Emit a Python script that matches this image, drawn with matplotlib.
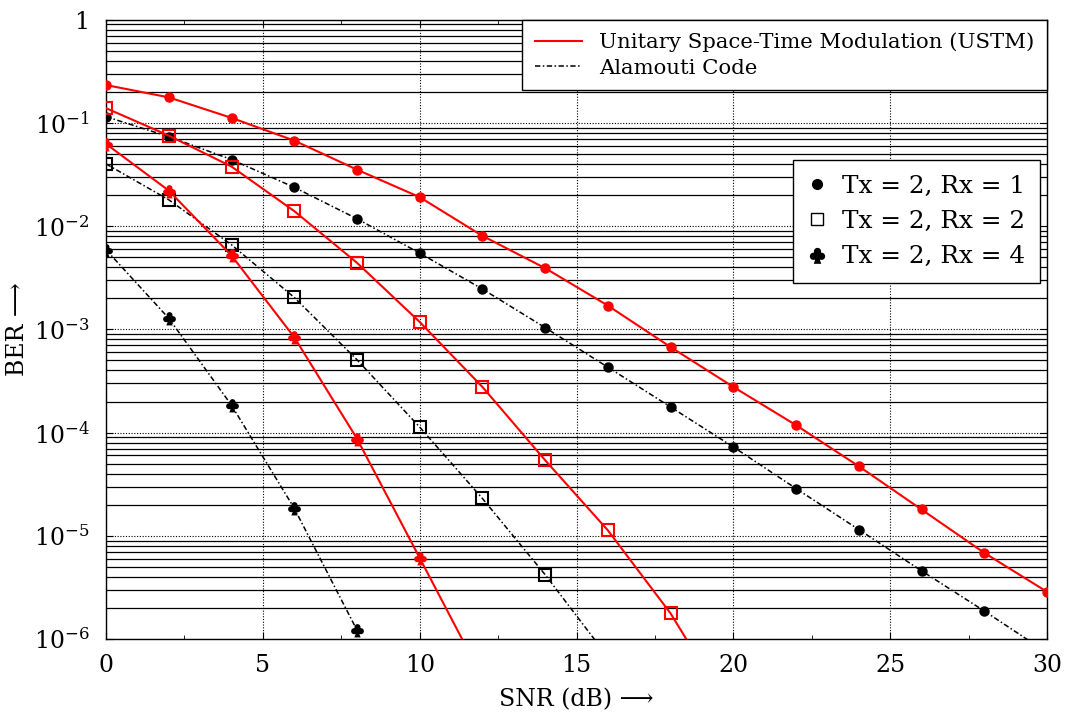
import numpy as np
import matplotlib
matplotlib.use("Agg")
import matplotlib.pyplot as plt
from matplotlib.lines import Line2D
from matplotlib.path import Path
from matplotlib.ticker import FixedLocator, LogLocator, NullFormatter

plt.rcParams['font.family'] = ['DejaVu Serif']
plt.rcParams['mathtext.fontset'] = 'dejavuserif'

# BER curves, SNR in dB
snr = [0, 2, 4, 6, 8, 10, 12, 14, 16, 18, 20, 22, 24, 26, 28, 30]

ustm_rx1 = [0.233, 0.177, 0.112, 0.0675, 0.0353, 0.0191, 0.00806, 0.00392,
            0.0017, 6.74e-4, 2.77e-4, 1.18e-4, 4.72e-5, 1.8e-5, 6.84e-6, 2.87e-6]
alam_rx1 = [0.115, 0.0737, 0.0442, 0.0238, 0.0118, 0.00548, 0.00246, 0.00104,
            4.3e-4, 1.77e-4, 7.26e-5, 2.87e-5, 1.15e-5, 4.58e-6, 1.87e-6, 7.4e-7]

snr_rx2 = [0, 2, 4, 6, 8, 10, 12, 14, 16, 18, 20]
ustm_rx2 = [0.139, 0.0754, 0.0378, 0.014, 0.00442, 0.00118, 2.77e-4, 5.4e-5,
            1.13e-5, 1.77e-6, 1.8e-7]
alam_rx2_snr = [0, 2, 4, 6, 8, 10, 12, 14, 16]
alam_rx2 = [0.0401, 0.018, 0.0066, 0.00204, 5.08e-4, 1.13e-4, 2.3e-5, 4.2e-6, 6.7e-7]

ustm_rx4_snr = [0, 2, 4, 6, 8, 10, 12]
ustm_rx4 = [0.0627, 0.0221, 0.0052, 8.4e-4, 8.75e-5, 6.1e-6, 4.2e-7]
alam_rx4_snr = [0, 2, 4, 6, 8]
alam_rx4 = [0.0059, 0.00128, 1.84e-4, 1.85e-5, 1.22e-6]


def club_marker():
    # three leaves plus a flared stem, all wound the same way so overlaps stay filled
    r = 0.27
    leaves = [Path.circle((0.0, 0.30), r), Path.circle((-0.30, -0.06), r),
              Path.circle((0.30, -0.06), r), Path.circle((0.0, 0.05), 0.2)]
    stem = Path([(-0.06, 0.0), (-0.28, -0.62), (0.28, -0.62), (0.06, 0.0), (-0.06, 0.0)],
                [Path.MOVETO, Path.LINETO, Path.LINETO, Path.LINETO, Path.CLOSEPOLY])
    return Path.make_compound_path(*leaves, stem)


club = club_marker()
dashdot = (0, (3.5, 1.6, 1.0, 1.6))

fig = plt.figure(figsize=(10.68, 7.18), dpi=100)
ax = fig.add_axes([0.0993, 0.110, 0.8810, 0.8625])

ax.plot(snr, ustm_rx1, color='red', lw=1.5, marker='o', ms=6.5, zorder=3)
ax.plot(snr, alam_rx1, color='black', lw=1.1, ls=dashdot, marker='o', ms=6.5, zorder=3)
ax.plot(snr_rx2, ustm_rx2, color='red', lw=1.5, marker='s', ms=8.5, mfc='none', mew=1.5, zorder=3)
ax.plot(alam_rx2_snr, alam_rx2, color='black', lw=1.1, ls=dashdot, marker='s', ms=8.5,
        mfc='none', mew=1.5, zorder=3)
ax.plot(ustm_rx4_snr, ustm_rx4, color='red', lw=1.5, marker=club, ms=10, mew=0, zorder=3)
ax.plot(alam_rx4_snr, alam_rx4, color='black', lw=1.1, ls=dashdot, marker=club, ms=10, mew=0, zorder=3)

ax.set_yscale('log')
ax.set_xlim(0, 30)
ax.set_ylim(1e-6, 1)

ax.xaxis.set_major_locator(FixedLocator([0, 5, 10, 15, 20, 25, 30]))
ax.xaxis.set_minor_locator(FixedLocator(np.arange(0, 30.1, 2.5)))
ax.yaxis.set_minor_locator(LogLocator(base=10, subs=np.arange(2, 10), numticks=20))
ax.yaxis.set_minor_formatter(NullFormatter())
ax.set_yticks([1e-6, 1e-5, 1e-4, 1e-3, 1e-2, 1e-1, 1])
ax.set_yticklabels([r'$10^{-6}$', r'$10^{-5}$', r'$10^{-4}$',
                    r'$10^{-3}$', r'$10^{-2}$', r'$10^{-1}$', '1'])

ax.grid(True, which='major', axis='both', color='black', ls=(0, (1, 1.5)), lw=0.8)
ax.grid(True, which='minor', axis='y', color='black', ls='-', lw=0.9)
ax.tick_params(which='both', direction='in', top=True, right=True)
ax.tick_params(axis='x', labelsize=17, pad=11)
ax.tick_params(axis='y', labelsize=17, pad=12)
ax.tick_params(which='major', length=5)
ax.tick_params(which='minor', length=3)
for s in ax.spines.values():
    s.set_linewidth(1.0)

ax.set_xlabel('SNR (dB) \u27f6', fontsize=17, labelpad=8)
ax.set_ylabel('BER \u27f6', fontsize=17)
ax.yaxis.set_label_coords(-0.082, 0.5)

h1 = [Line2D([], [], color='red', lw=1.5),
      Line2D([], [], color='black', lw=1.1, ls=dashdot)]
leg1 = ax.legend(h1, ['Unitary Space-Time Modulation (USTM)', 'Alamouti Code'],
                 loc='upper right', bbox_to_anchor=(1.0, 1.0), fontsize=15.3,
                 fancybox=False, framealpha=1, edgecolor='black', borderaxespad=0,
                 handlelength=2.2, handletextpad=0.8, labelspacing=0.3, borderpad=0.6)
leg1.get_frame().set_linewidth(1.0)
ax.add_artist(leg1)

h2 = [Line2D([], [], color='black', ls='none', marker='o', ms=7),
      Line2D([], [], color='black', ls='none', marker='s', ms=9, mfc='none', mew=1.0),
      Line2D([], [], color='black', ls='none', marker=club, ms=12, mew=0)]
leg2 = ax.legend(h2, ['Tx = 2, Rx = 1', 'Tx = 2, Rx = 2', 'Tx = 2, Rx = 4'],
                 loc='upper right', bbox_to_anchor=(0.9926, 0.774), fontsize=17.8,
                 fancybox=False, framealpha=1, edgecolor='black', borderaxespad=0,
                 handlelength=0.8, handletextpad=0.6, labelspacing=0.5, borderpad=0.6)
leg2.get_frame().set_linewidth(1.0)

fig.savefig('out.png', dpi=100)
